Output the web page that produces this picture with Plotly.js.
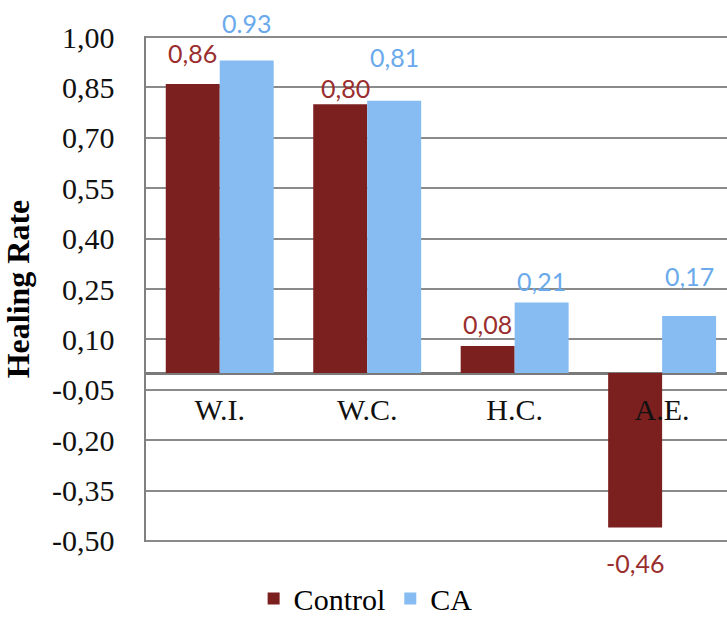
<!DOCTYPE html>
<html>
<head>
<meta charset="utf-8">
<script src="https://cdn.plot.ly/plotly-3.0.1.min.js"></script>
<style>html,body{margin:0;padding:0;background:#fff;}#chart{width:727px;height:625px;}</style>
</head>
<body>
<div id="chart"></div>
<script>
// ---- data ----
const categories = ["W.I.", "W.C.", "H.C.", "A.E."];
const controlValues = [0.86, 0.80, 0.08, -0.46];
const caValues = [0.93, 0.81, 0.21, 0.17];
const controlLabels = ["0,86", "0,80", "0,08", "-0,46"];
const caLabels = ["0.93", "0,81", "0,21", "0,17"];
const tickValues = [1.00, 0.85, 0.70, 0.55, 0.40, 0.25, 0.10, -0.05, -0.20, -0.35, -0.50];
const tickLabels = ["1,00", "0,85", "0,70", "0,55", "0,40", "0,25", "0,10", "-0,05", "-0,20", "-0,35", "-0,50"];

// ---- styles / label placement (pixels) ----
const controlColor = "#7C1F1F";
const caColor = "#87BCF3";
const controlTextColor = "#9A2E2E";
const caTextColor = "#6AAAEC";
const gridColor = "#8a8a8a";
const controlLabelShiftY = [31, 16, 22, -35];
const controlLabelShiftX = [0, 5, 0, 0];
const caLabelShiftY = [38, 44, 21, 40];
const caLabelShiftX = [0, 0, 0, 0];
const halfBarPx = 27;

const serif = "Liberation Serif";
const sans = "Lato";

const traces = [
  {type: "bar", name: "Control", x: categories, y: controlValues,
   marker: {color: controlColor}, hoverinfo: "none"},
  {type: "bar", name: "CA", x: categories, y: caValues,
   marker: {color: caColor}, hoverinfo: "none"}
];

const annotations = [];
categories.forEach((c, i) => {
  annotations.push({x: c, y: controlValues[i], xref: "x", yref: "y",
    text: controlLabels[i], showarrow: false,
    xshift: -halfBarPx + controlLabelShiftX[i], yshift: controlLabelShiftY[i],
    xanchor: "center", yanchor: "middle",
    font: {family: sans, size: 25, color: controlTextColor}});
  annotations.push({x: c, y: caValues[i], xref: "x", yref: "y",
    text: caLabels[i], showarrow: false,
    xshift: halfBarPx + caLabelShiftX[i], yshift: caLabelShiftY[i],
    xanchor: "center", yanchor: "middle",
    font: {family: sans, size: 25, color: caTextColor}});
});

const layout = {
  width: 727, height: 625,
  margin: {l: 146, r: 0, t: 36, b: 83, autoexpand: false},
  paper_bgcolor: "#fff", plot_bgcolor: "#fff",
  barmode: "group", bargap: 0.268, bargroupgap: 0,
  showlegend: true,
  legend: {orientation: "h", x: 0.378, xanchor: "center", y: -0.163, yanchor: "bottom",
    font: {family: serif, size: 30, color: "#000"}, traceorder: "normal"},
  xaxis: {range: [-0.5, 3.44], anchor: "free", position: 1/3,
    showline: false, showgrid: false, zeroline: false, ticks: "",
    ticklabelstandoff: 16, automargin: false,
    tickfont: {family: serif, size: 30, color: "#111"}},
  yaxis: {range: [-0.503, 1.003], tickvals: tickValues, ticktext: tickLabels,
    showgrid: true, gridcolor: gridColor, gridwidth: 2,
    zeroline: true, zerolinecolor: "#7a7a7a", zerolinewidth: 3,
    showline: true, linecolor: "#808080", linewidth: 2.5,
    ticks: "", ticklabelstandoff: 23, automargin: false,
    tickfont: {family: serif, size: 30, color: "#111"},
    title: {text: "Healing Rate", standoff: 18,
      font: {family: serif, size: 32, color: "#000", weight: "bold"}}},
  shapes: [{type: "line", xref: "paper", yref: "y", x0: 0, x1: 1,
    y0: tickValues[0], y1: tickValues[0], layer: "below",
    line: {color: gridColor, width: 2}}],
  annotations: annotations
};

Plotly.newPlot("chart", traces, layout, {displayModeBar: false, staticPlot: true});
</script>
</body>
</html>
